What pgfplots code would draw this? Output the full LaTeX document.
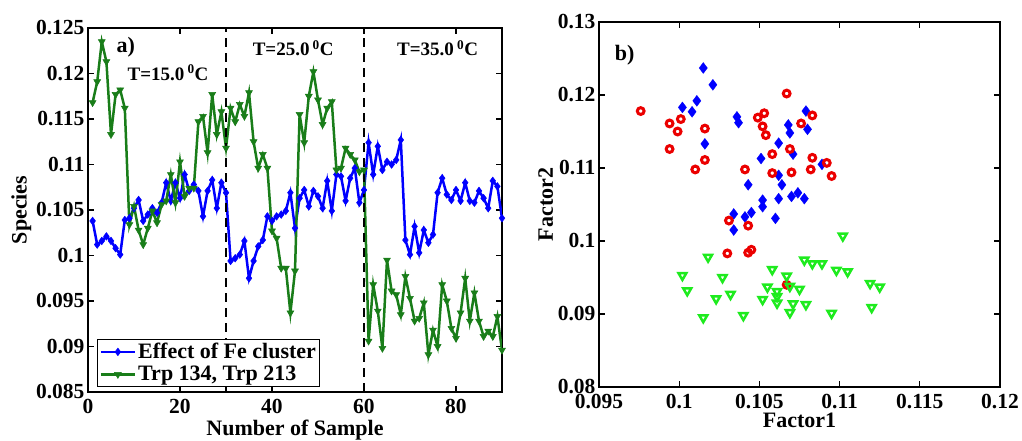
\documentclass[border=0pt]{standalone}
\usepackage{pgfplots}
\pgfplotsset{compat=1.18}
\usepackage{pgfplotstable}
\usepackage{fontspec}
\setmainfont{Liberation Serif}
\definecolor{lblue}{RGB}{0,0,255}
\definecolor{lgreen}{RGB}{25,125,25}
\definecolor{sgreen}{RGB}{30,235,30}
\definecolor{sred}{RGB}{235,0,0}
\pgfplotstableread{
s v
1 0.1038
2 0.1012
3 0.1016
4 0.1021
5 0.1016
6 0.1008
7 0.1001
8 0.1039
9 0.1041
10 0.1052
11 0.1061
12 0.1038
13 0.1045
14 0.1052
15 0.1047
16 0.1058
17 0.1080
18 0.1060
19 0.1080
20 0.1063
21 0.1089
22 0.1071
23 0.1078
24 0.1071
25 0.1043
26 0.1071
27 0.1083
28 0.1052
29 0.1080
30 0.1069
31 0.0994
32 0.0997
33 0.1001
34 0.1016
35 0.0975
36 0.0994
37 0.1010
38 0.1017
39 0.1043
40 0.1038
41 0.1043
42 0.1045
43 0.1049
44 0.1069
45 0.1030
46 0.1063
47 0.1072
48 0.1054
49 0.1071
50 0.1065
51 0.1052
52 0.1082
53 0.1049
54 0.1089
55 0.1087
56 0.1060
57 0.1085
58 0.1096
59 0.1058
60 0.1072
61 0.1124
62 0.1089
63 0.1120
64 0.1094
65 0.1103
66 0.1100
67 0.1105
68 0.1127
69 0.1017
70 0.1001
71 0.1032
72 0.1003
73 0.1028
74 0.1014
75 0.1023
76 0.1069
77 0.1085
78 0.1067
79 0.1061
80 0.1072
81 0.1060
82 0.1080
83 0.1060
84 0.1058
85 0.1071
86 0.1063
87 0.1052
88 0.1082
89 0.1076
90 0.1041
}\fecluster
\pgfplotstableread{
s v
1 0.1168
2 0.1191
3 0.1235
4 0.1213
5 0.1133
6 0.1177
7 0.1182
8 0.1162
9 0.1034
10 0.1054
11 0.1028
12 0.1012
13 0.1030
14 0.1049
15 0.1036
16 0.1056
17 0.1060
18 0.1089
19 0.1058
20 0.1103
21 0.1065
22 0.1074
23 0.1074
24 0.1147
25 0.1153
26 0.1113
27 0.1177
28 0.1133
29 0.1158
30 0.1118
31 0.1162
32 0.1147
33 0.1166
34 0.1153
35 0.1179
36 0.1125
37 0.1096
38 0.1111
39 0.1096
40 0.1027
41 0.1019
42 0.0986
43 0.0986
44 0.0937
45 0.0983
46 0.1155
47 0.1124
48 0.1175
49 0.1202
50 0.1171
51 0.1144
52 0.1162
53 0.1169
54 0.1094
55 0.1096
56 0.1118
57 0.1111
58 0.1105
59 0.1092
60 0.1094
61 0.0906
62 0.0968
63 0.0939
64 0.0898
65 0.0995
66 0.0961
67 0.0957
68 0.0935
69 0.0977
70 0.0953
71 0.0928
72 0.0931
73 0.0948
74 0.0891
75 0.0918
76 0.0900
77 0.0968
78 0.0950
79 0.0920
80 0.0909
81 0.0937
82 0.0975
83 0.0928
84 0.0959
85 0.0928
86 0.0911
87 0.0917
88 0.0911
89 0.0933
90 0.0896
}\trp
\pgfplotstableread{
x y
0.1015 0.1237
0.1021 0.1214
0.1002 0.1183
0.1008 0.1177
0.1011 0.1192
0.1016 0.1133
0.1036 0.1170
0.1037 0.1162
0.1079 0.1178
0.1068 0.1159
0.1080 0.1153
0.1069 0.1148
0.1062 0.1134
0.1071 0.1119
0.1051 0.1113
0.1089 0.1105
0.1062 0.1090
0.1064 0.1077
0.1043 0.1077
0.1052 0.1056
0.1052 0.1047
0.1062 0.1058
0.1070 0.1061
0.1074 0.1066
0.1078 0.1058
0.1034 0.1037
0.1041 0.1033
0.1045 0.1039
0.1060 0.1031
0.1034 0.1015
}\sblue
\pgfplotstableread{
x y
0.0976 0.1178
0.0994 0.1161
0.1001 0.1167
0.0999 0.1150
0.0994 0.1126
0.1016 0.1154
0.1016 0.1111
0.1010 0.1098
0.1067 0.1202
0.1049 0.1169
0.1053 0.1175
0.1052 0.1157
0.1054 0.1145
0.1076 0.1161
0.1083 0.1172
0.1069 0.1126
0.1058 0.1119
0.1083 0.1114
0.1041 0.1098
0.1058 0.1093
0.1070 0.1094
0.1082 0.1098
0.1092 0.1107
0.1095 0.1089
0.1031 0.1028
0.1043 0.1021
0.1030 0.0983
0.1043 0.0984
0.1045 0.0988
0.1067 0.0940
}\sred
\pgfplotstableread{
x y
0.1102 0.1007
0.1018 0.0978
0.1002 0.0953
0.1005 0.0932
0.1015 0.0895
0.1027 0.0950
0.1023 0.0921
0.1032 0.0927
0.1040 0.0898
0.1058 0.0961
0.1055 0.0937
0.1052 0.0920
0.1061 0.0931
0.1061 0.0924
0.1061 0.0915
0.1067 0.0952
0.1069 0.0938
0.1075 0.0934
0.1071 0.0914
0.1069 0.0902
0.1079 0.0913
0.1078 0.0974
0.1083 0.0969
0.1089 0.0969
0.1098 0.0960
0.1105 0.0958
0.1095 0.0901
0.1119 0.0942
0.1125 0.0937
0.1120 0.0909
}\sgreen
\begin{document}
\begin{tikzpicture}
\path[use as bounding box] (0pt,0pt) rectangle (1022pt,441pt);
\pgfplotsset{every axis/.append style={
  scale only axis,
  axis line style={line width=1.3pt},
  every tick/.style={line width=1.1pt, black},
  major tick length=6pt,
  tick align=inside,
  scaled ticks=false,
  /pgf/number format/assume math mode=true,
  tick label style={font=\bfseries\fontsize{21.5}{23}\selectfont},
  xticklabel style={yshift=-4pt},
  label style={font=\bfseries\fontsize{22}{24}\selectfont},
}}
\begin{axis}[
  at={(88pt,49pt)}, anchor=south west,
  width=414pt, height=364pt,
  xmin=0, xmax=90, ymin=0.085, ymax=0.125,
  xtick={0,20,40,60,80},
  ytick={0.085,0.09,0.095,0.1,0.105,0.11,0.115,0.12,0.125},
  yticklabel style={/pgf/number format/.cd, fixed, precision=3},
  xlabel={Number of Sample}, ylabel={Species},
  xlabel style={yshift=1pt},
  ylabel style={yshift=-2pt},
  legend cell align=left,
  legend image code/.code={\draw[mark repeat=2,mark phase=2] plot coordinates {(0cm,0cm) (0.6cm,0cm) (1.2cm,0cm)};},
  legend style={at={(0.022,0.014)}, anchor=south west,
    font=\bfseries\fontsize{22}{24}\selectfont, draw=black, line width=0.9pt,
    inner sep=2pt, row sep=2pt},
]
\addplot[lblue, line width=2.5pt, mark=diamond*, mark size=3.8pt, mark options={line width=0.5pt}] table[x=s,y=v] {\fecluster};
\addlegendentry{Effect of Fe cluster}
\addplot[lgreen, line width=2.5pt, mark=triangle*, mark size=4pt, mark options={rotate=180, line width=0.5pt}] table[x=s,y=v] {\trp};
\addlegendentry{Trp 134, Trp 213}
\addplot[black, line width=2pt, dash pattern=on 9pt off 6pt, forget plot] coordinates {(30,0.085) (30,0.125)};
\addplot[black, line width=2pt, dash pattern=on 9pt off 6pt, forget plot] coordinates {(60,0.085) (60,0.125)};
\node[font=\bfseries\fontsize{22}{24}\selectfont] at (axis cs:8.2,0.1229) {a)};
\node[font=\bfseries\fontsize{19}{22}\selectfont] at (axis cs:17.4,0.1201) {T=15.0\,\textsuperscript{0}C};
\node[font=\bfseries\fontsize{19}{22}\selectfont] at (axis cs:44.6,0.1228) {T=25.0\,\textsuperscript{0}C};
\node[font=\bfseries\fontsize{19}{22}\selectfont] at (axis cs:76,0.1228) {T=35.0\,\textsuperscript{0}C};
\end{axis}
\begin{axis}[
  at={(599pt,54pt)}, anchor=south west,
  width=401pt, height=365pt,
  xmin=0.095, xmax=0.12, ymin=0.08, ymax=0.13,
  xtick={0.095,0.1,0.105,0.11,0.115,0.12},
  ytick={0.08,0.09,0.1,0.11,0.12,0.13},
  xticklabel style={/pgf/number format/.cd, fixed, precision=3},
  yticklabel style={/pgf/number format/.cd, fixed, precision=3},
  xlabel={Factor1}, ylabel={Factor2},
  xlabel style={yshift=3pt},
  ylabel style={yshift=-2pt},
]
\addplot[only marks, mark=diamond*, mark size=5.5pt, color=lblue, mark options={line width=0.3pt}] table[x=x,y=y] {\sblue};
\addplot[only marks, mark=o, mark size=3.4pt, color=sred, mark options={line width=3pt}] table[x=x,y=y] {\sred};
\addplot[only marks, mark=triangle, mark size=4.6pt, color=sgreen, mark options={rotate=180, line width=2.5pt}] table[x=x,y=y] {\sgreen};
\node[font=\bfseries\fontsize{22}{24}\selectfont] at (axis cs:0.0966,0.1255) {b)};
\end{axis}
\end{tikzpicture}
\end{document}
